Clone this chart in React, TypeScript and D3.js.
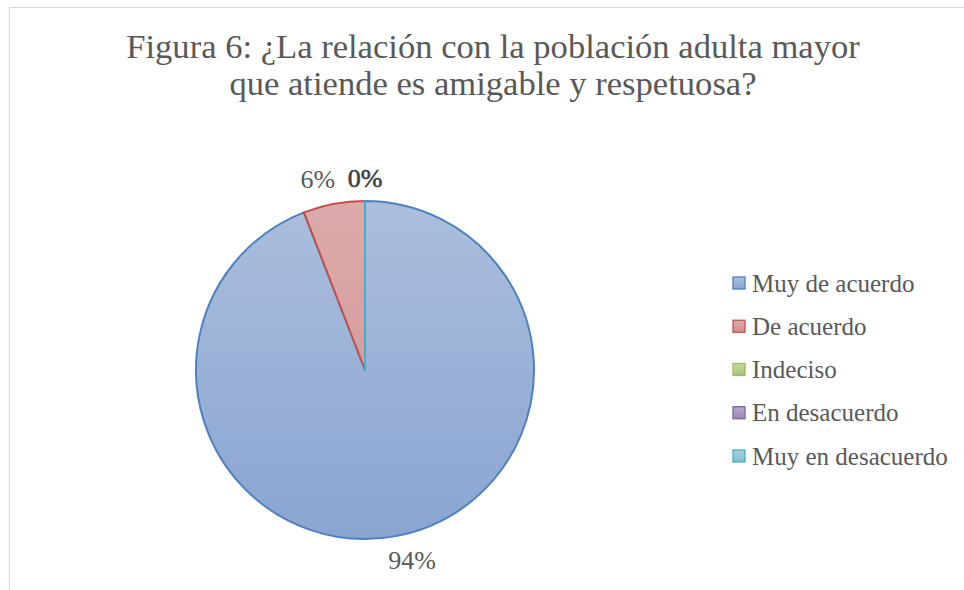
import React from "react";
import * as d3 from "d3";

const title = ["Figura 6: ¿La relación con la población adulta mayor", "que atiende es amigable y respetuosa?"];
const categories = ["Muy de acuerdo", "De acuerdo", "Indeciso", "En desacuerdo", "Muy en desacuerdo"];
const values = [16, 1, 0, 0, 0];
const percentLabels = ["94%", "6%", "0%", "0%", "0%"];
const fillTop = ["#abbedd", "#dcabab", "#c5d8a4", "#b8a9cb", "#a6d3e0"];
const fillBottom = ["#8aa5d2", "#d38e8e", "#a9c47a", "#9a87b8", "#7fc0d2"];
const strokes = ["#4f81bd", "#c0504d", "#9bbb59", "#8064a2", "#4bacc6"];

const W = 964;
const H = 590;
const cx = 365;
const cy = 370;
const R = 169;
const labelR = 196;
const labelShift = -0.058;
const FONT = "'Liberation Serif', 'DejaVu Serif', serif";

export default function App() {
  const pie = d3.pie<number>().sort(null).value((d) => d)(values);
  const arc = d3.arc<d3.PieArcDatum<number>>().innerRadius(0).outerRadius(R);

  const seenZero = { v: false };
  const labels = pie
    .map((p, i) => ({ p, i }))
    .filter(({ p }) => {
      if (p.value === 0) {
        if (seenZero.v) return false;
        seenZero.v = true;
      }
      return true;
    });

  const legendY = d3.scalePoint<string>().domain(categories).range([283, 456]);

  return (
    <svg width={W} height={H} style={{ position: "absolute", left: 0, top: 0, background: "#fff" }}>
      <defs>
        {categories.map((c, i) => (
          <linearGradient key={c} id={`g${i}`} gradientUnits="userSpaceOnUse" x1={0} y1={-R} x2={0} y2={R}>
            <stop offset="0" stopColor={fillTop[i]} />
            <stop offset="1" stopColor={fillBottom[i]} />
          </linearGradient>
        ))}
        {categories.map((c, i) => (
          <linearGradient key={c + "l"} id={`lg${i}`} x1={0} y1={0} x2={0} y2={1}>
            <stop offset="0" stopColor={fillTop[i]} />
            <stop offset="1" stopColor={fillBottom[i]} />
          </linearGradient>
        ))}
      </defs>
      <rect x={9.5} y={7.5} width={W} height={H} fill="#fff" stroke="#d9d9d9" strokeWidth={1} />
      {title.map((t, i) => (
        <text
          key={i}
          x={493}
          y={58 + i * 37}
          textAnchor="middle"
          fontFamily={FONT}
          fontSize={34.6}
          fill="#595959"
        >
          {t}
        </text>
      ))}
      <g transform={`translate(${cx},${cy})`}>
        {pie.map((p, i) => (
          <path
            key={i}
            d={arc(p) || ""}
            fill={`url(#g${i})`}
            stroke={strokes[i]}
            strokeWidth={2}
            strokeLinejoin="round"
          />
        ))}
        {pie
          .filter((p) => p.value === 0)
          .slice(-1)
          .map((p, k) => {
            const a = p.startAngle;
            return (
              <line
                key={k}
                x1={0}
                y1={0}
                x2={Math.sin(a) * R}
                y2={-Math.cos(a) * R}
                stroke={strokes[4]}
                strokeWidth={2}
              />
            );
          })}
        {labels.map(({ p, i }) => {
          const zero = p.value === 0;
          const a = (p.startAngle + p.endAngle) / 2 + (zero ? 0 : labelShift);
          const r = zero ? 192 : labelR;
          const x = Math.sin(a) * r;
          const y = -Math.cos(a) * r;
          return (
            <text
              key={i}
              x={x}
              y={y}
              textAnchor="middle"
              dominantBaseline="central"
              fontFamily={FONT}
              fontSize={26}
              fill={zero ? "#404040" : "#595959"}
              stroke={zero ? "#404040" : "none"}
              strokeWidth={zero ? 0.6 : 0}
            >
              {percentLabels[i]}
            </text>
          );
        })}
      </g>
      {categories.map((c, i) => {
        const y = legendY(c) as number;
        return (
          <g key={c} transform={`translate(733,${y})`}>
            <rect x={0} y={-6} width={12} height={12} fill={`url(#lg${i})`} stroke={strokes[i]} strokeWidth={1.3} />
            <text x={19} y={0} dominantBaseline="central" fontFamily={FONT} fontSize={25} fill="#595959">
              {c}
            </text>
          </g>
        );
      })}
    </svg>
  );
}
